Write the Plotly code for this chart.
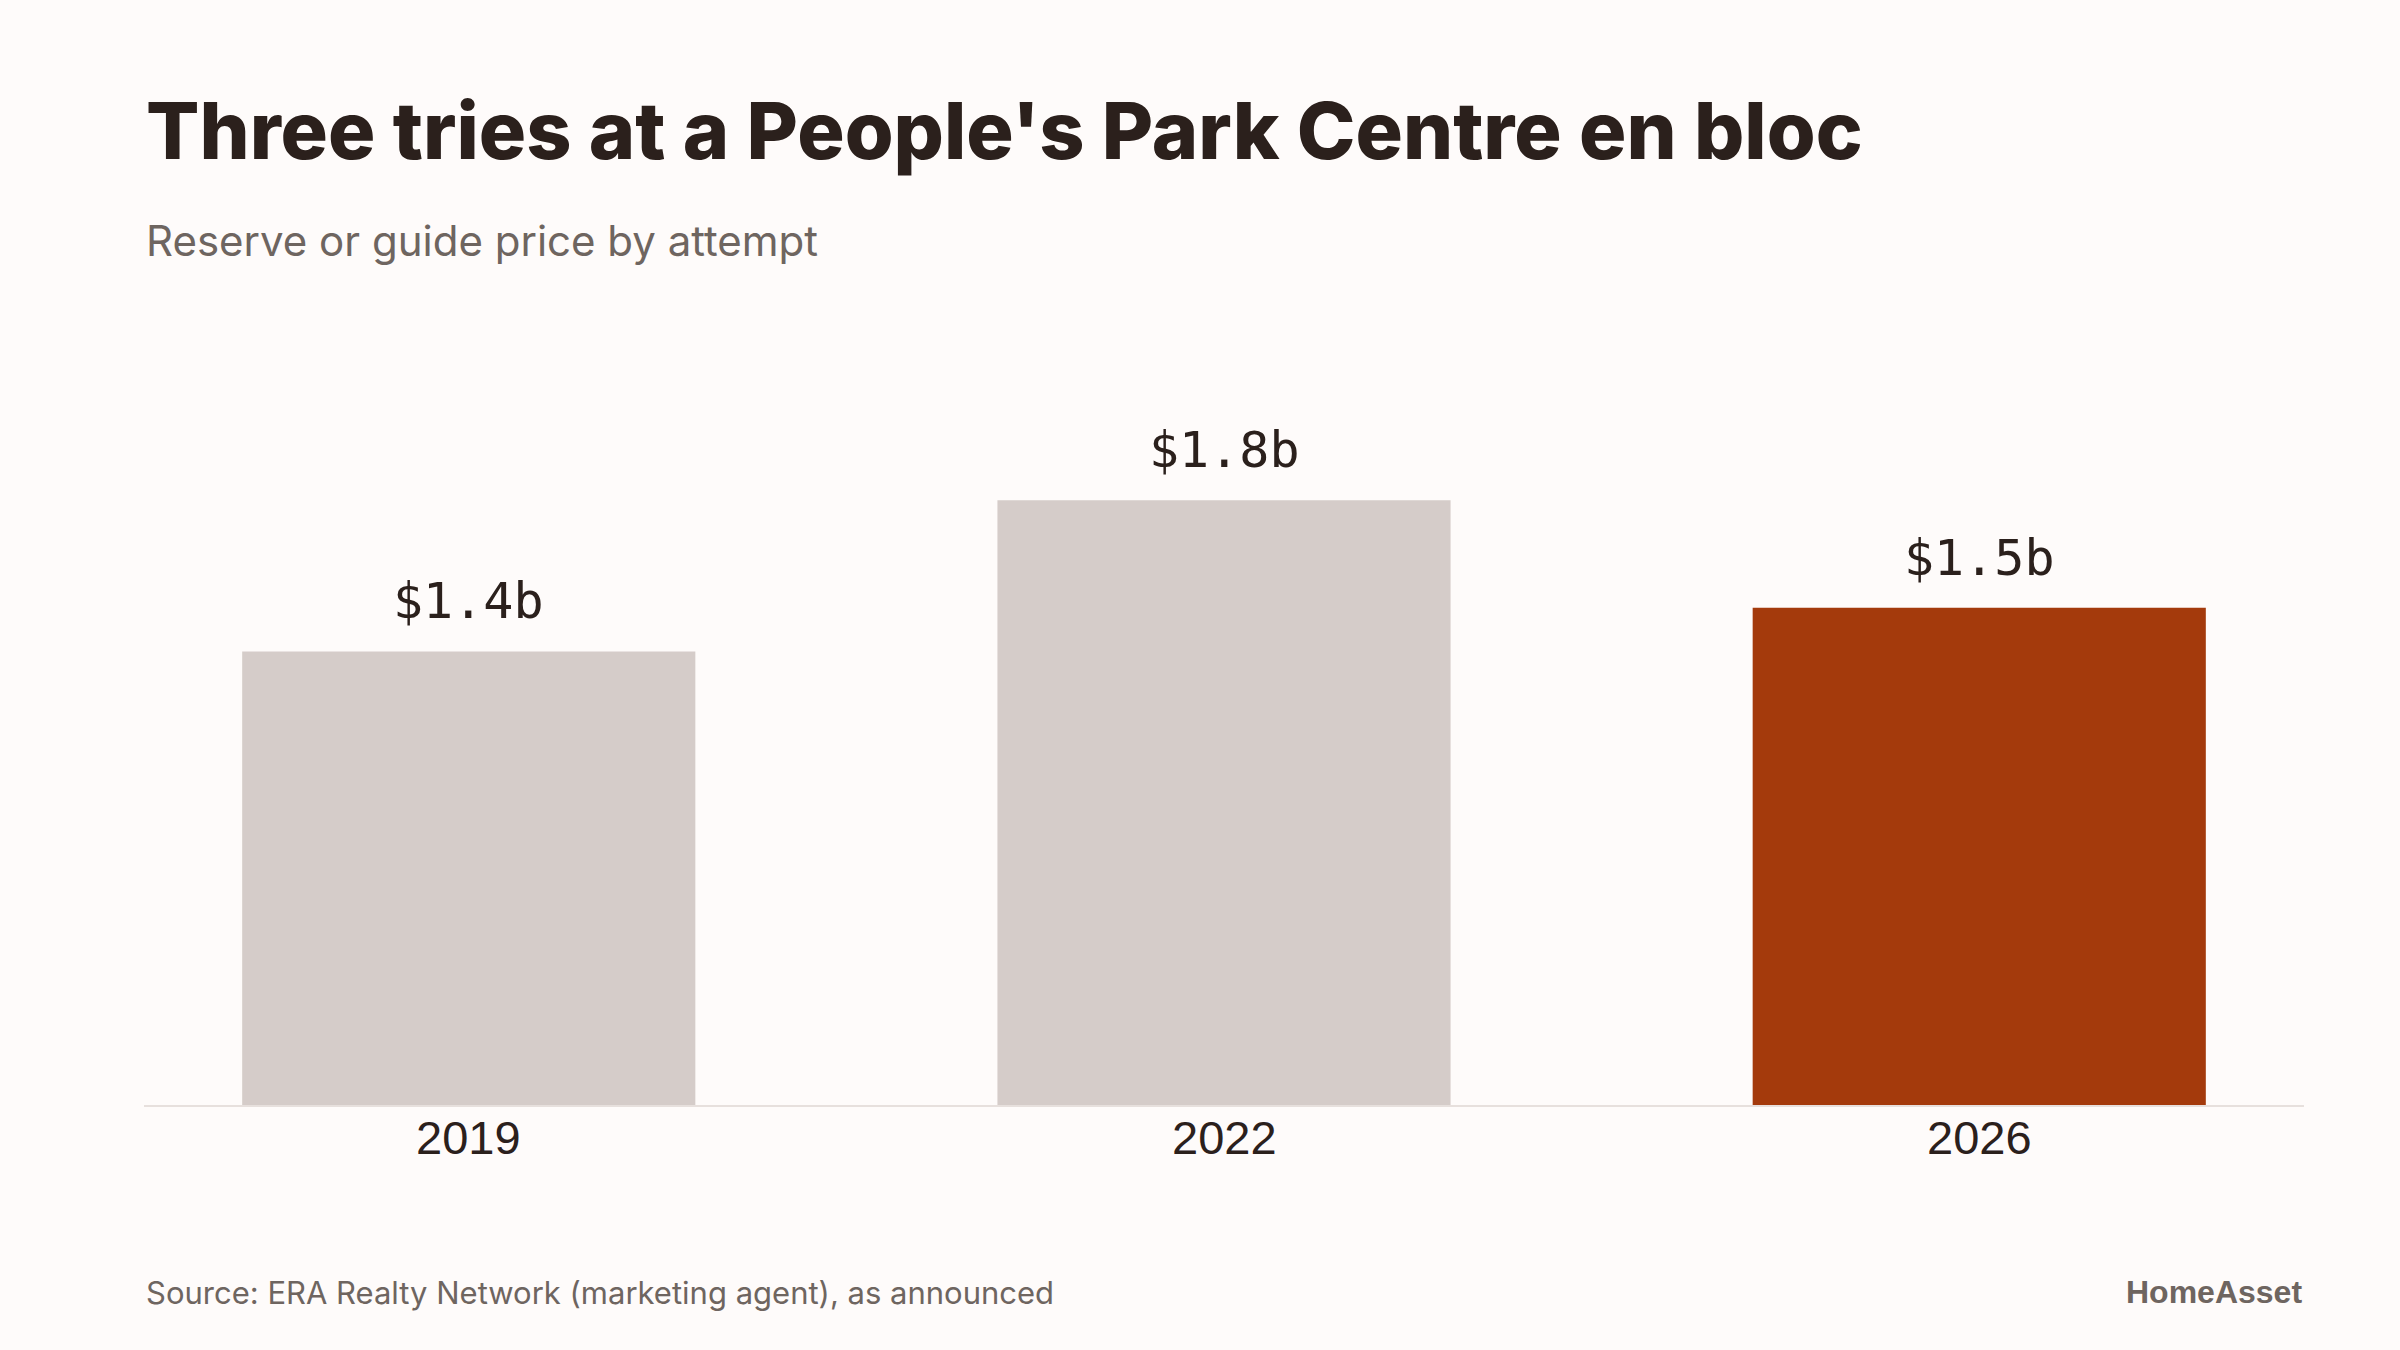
import plotly.graph_objects as go

# ---- data ----
years = ["2019", "2022", "2026"]
prices_bn = [1.35, 1.8, 1.48]
price_labels = ["$1.4b", "$1.8b", "$1.5b"]
highlight = [False, False, True]

title = "Three tries at a People's Park Centre en bloc"
subtitle = "Reserve or guide price by attempt"
source = "Source: ERA Realty Network (marketing agent), as announced"
brand = "HomeAsset"

# ---- style ----
W, H = 2400, 1350
BG = "#fefbfa"
GREY_BAR = "#d5ccc9"
HIGHLIGHT = "#a43a0c"
INK = "#2b201c"
MUTED = "#6e6560"
AXIS = "#e7e0dd"

M_L, M_R, M_T, M_B = 144, 96, 433, 245
plot_h = H - M_T - M_B


def py(pixel_y):
    """pixel y (from top) -> paper coordinate"""
    return (H - M_B - pixel_y) / plot_h


colors = [HIGHLIGHT if h else GREY_BAR for h in highlight]
idx = list(range(len(years)))

fig = go.Figure(
    go.Bar(
        x=idx,
        y=prices_bn,
        marker=dict(color=colors, line=dict(width=0)),
        width=0.6,
        hoverinfo="skip",
    )
)

for i, v, lab in zip(idx, prices_bn, price_labels):
    fig.add_annotation(
        x=i, y=v, xref="x", yref="y", text=lab, showarrow=False,
        yanchor="bottom", yshift=19,
        font=dict(family="DejaVu Sans Mono", size=50, color=INK),
    )

for i, yr in zip(idx, years):
    fig.add_annotation(
        x=i, y=py(1137), xref="x", yref="paper", text=yr, showarrow=False,
        yanchor="middle",
        font=dict(family="Liberation Sans", size=47, color=INK),
    )

fig.add_annotation(
    x=0, y=py(130), xref="paper", yref="paper", text=title,
    showarrow=False, xanchor="left", yanchor="middle",
    font=dict(family="Inter", size=79, color=INK, weight=800),
)
fig.add_annotation(
    x=0, y=py(241), xref="paper", yref="paper", text=subtitle,
    showarrow=False, xanchor="left", yanchor="middle",
    font=dict(family="Inter", size=42, color=MUTED),
)
fig.add_annotation(
    x=0, y=py(1292), xref="paper", yref="paper", text=source,
    showarrow=False, xanchor="left", yanchor="middle",
    font=dict(family="Inter", size=31, color=MUTED),
)
fig.add_annotation(
    x=1, y=py(1292), xref="paper", yref="paper", text=f"<b>{brand}</b>",
    showarrow=False, xanchor="right", yanchor="middle",
    font=dict(family="Liberation Sans", size=32, color=MUTED),
)

fig.update_layout(
    width=W, height=H,
    paper_bgcolor=BG, plot_bgcolor=BG,
    margin=dict(l=M_L, r=M_R, t=M_T, b=M_B, pad=0),
    showlegend=False,
    xaxis=dict(
        range=[-0.43, 2.43],
        showline=True, linecolor=AXIS, linewidth=2,
        showgrid=False, zeroline=False, ticks="", showticklabels=False,
        fixedrange=True,
    ),
    yaxis=dict(
        range=[0, 2.0], visible=False, showgrid=False, zeroline=False,
        fixedrange=True,
    ),
)

fig.write_html("out.html", config={"displayModeBar": False})
